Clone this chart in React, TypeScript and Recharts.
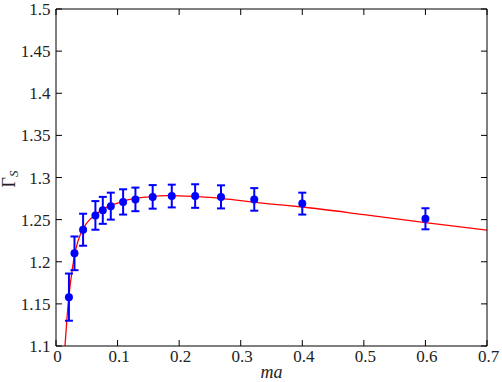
import { ComposedChart, Line, Scatter, ErrorBar, XAxis, YAxis } from 'recharts'

// lattice points
const maPts = [0.021, 0.03, 0.044, 0.064, 0.076, 0.089, 0.109, 0.129, 0.157, 0.188, 0.226, 0.268, 0.322, 0.4, 0.6]
const gammaPts = [1.158, 1.21, 1.238, 1.255, 1.261, 1.266, 1.271, 1.274, 1.277, 1.278, 1.278, 1.277, 1.274, 1.269, 1.251]
const gammaErr = [0.028, 0.02, 0.019, 0.017, 0.016, 0.016, 0.015, 0.014, 0.014, 0.0135, 0.014, 0.0137, 0.0134, 0.013, 0.0125]

// fit curve
const fitMa = [0.0146, 0.018, 0.021, 0.027, 0.0325, 0.04, 0.05, 0.065, 0.08, 0.1, 0.12, 0.15, 0.18, 0.21, 0.25, 0.3, 0.35, 0.4, 0.5, 0.6, 0.7]
const fitGamma = [1.1, 1.135, 1.159, 1.194, 1.216, 1.233, 1.246, 1.2565, 1.264, 1.2695, 1.274, 1.277, 1.2785, 1.278, 1.2765, 1.2725, 1.2685, 1.265, 1.256, 1.2465, 1.2375]

const xTicks = [0, 0.1, 0.2, 0.3, 0.4, 0.5, 0.6, 0.7]
const yTicks = [1.1, 1.15, 1.2, 1.25, 1.3, 1.35, 1.4, 1.45, 1.5]

const points = maPts.map((x, i) => ({ x, y: gammaPts[i], err: gammaErr[i] }))
const fit = fitMa.map((x, i) => ({ x, y: fitGamma[i] }))

const font = "'Liberation Serif'"
const TL = 6 // inward tick length

// bottom: y = plot bottom + tickMargin(10)
function BottomTick(props: any) {
  const { x, y, payload } = props
  return (
    <g>
      <line x1={x} y1={y - 10} x2={x} y2={y - 10 - TL} stroke="#000" strokeWidth={1} />
      <text x={x + 1.5} y={y + 5.5} textAnchor="middle" fontFamily={font} fontSize={17} fill="#222">
        {String(payload.value)}
      </text>
    </g>
  )
}

// left: x = plot left - tickMargin(6)
function LeftTick(props: any) {
  const { x, y, payload } = props
  return (
    <g>
      <line x1={x + 6} y1={y} x2={x + 6 + TL} y2={y} stroke="#000" strokeWidth={1} />
      <text x={x + 0.5} y={y + 6} textAnchor="end" fontFamily={font} fontSize={17} fill="#222">
        {String(payload.value)}
      </text>
    </g>
  )
}

function TopTick(props: any) {
  const { x, y } = props
  return <line x1={x} y1={y} x2={x} y2={y + TL} stroke="#000" strokeWidth={1} />
}

function RightTick(props: any) {
  const { x, y } = props
  return <line x1={x} y1={y} x2={x - TL} y2={y} stroke="#000" strokeWidth={1} />
}

function YLabel(props: any) {
  const vb = props.viewBox
  const x = vb.x + 15
  const y = vb.y + vb.height / 2 + 1.5
  return (
    <text x={x} y={y} transform={`rotate(-90, ${x}, ${y})`} textAnchor="middle" fontFamily={font} fontSize={18} fill="#222">
      Γ<tspan fontStyle="italic" fontSize={13} dy={2.5}>S</tspan>
    </text>
  )
}

function XLabel(props: any) {
  const vb = props.viewBox
  return (
    <text x={vb.x + vb.width / 2} y={vb.y + 31.5} textAnchor="middle" fontFamily={font} fontStyle="italic" fontSize={18} fill="#222">
      ma
    </text>
  )
}

const Dot = (props: any) => <circle cx={props.cx} cy={props.cy} r={4} fill="#0000ff" />

export default function App() {
  return (
    <div style={{ position: 'absolute', left: 0, top: 0, background: '#fff' }}>
      <ComposedChart width={502} height={382} margin={{ top: 8, right: 14, bottom: 0, left: 0 }}>
        <XAxis
          dataKey="x"
          type="number"
          domain={[0, 0.7]}
          ticks={xTicks}
          allowDataOverflow
          height={36}
          tickSize={0}
          tickLine={false}
          tickMargin={10}
          tick={<BottomTick />}
          stroke="#000"
          label={<XLabel />}
        />
        <XAxis
          xAxisId="t"
          dataKey="x"
          type="number"
          domain={[0, 0.7]}
          ticks={xTicks}
          allowDataOverflow
          orientation="top"
          height={1}
          tickSize={0}
          tickLine={false}
          tickMargin={0}
          tick={<TopTick />}
          stroke="#000"
        />
        <YAxis
          type="number"
          domain={[1.1, 1.5]}
          ticks={yTicks}
          allowDataOverflow
          width={56}
          tickSize={0}
          tickLine={false}
          tickMargin={6}
          tick={<LeftTick />}
          stroke="#000"
          label={<YLabel />}
        />
        <YAxis
          yAxisId="r"
          orientation="right"
          type="number"
          domain={[1.1, 1.5]}
          ticks={yTicks}
          allowDataOverflow
          width={1}
          tickSize={0}
          tickLine={false}
          tickMargin={0}
          tick={<RightTick />}
          stroke="#000"
        />
        <Line xAxisId="t" yAxisId="r" data={fit} dataKey="y" stroke="none" dot={false} activeDot={false} isAnimationActive={false} />
        <Line
          data={fit}
          dataKey="y"
          type="monotone"
          stroke="#ff0000"
          strokeWidth={1.3}
          dot={false}
          activeDot={false}
          isAnimationActive={false}
        />
        <Scatter data={points} dataKey="y" shape={Dot} isAnimationActive={false}>
          <ErrorBar dataKey="err" direction="y" width={4} stroke="#0000ff" strokeWidth={2} isAnimationActive={false} />
        </Scatter>
      </ComposedChart>
    </div>
  )
}
